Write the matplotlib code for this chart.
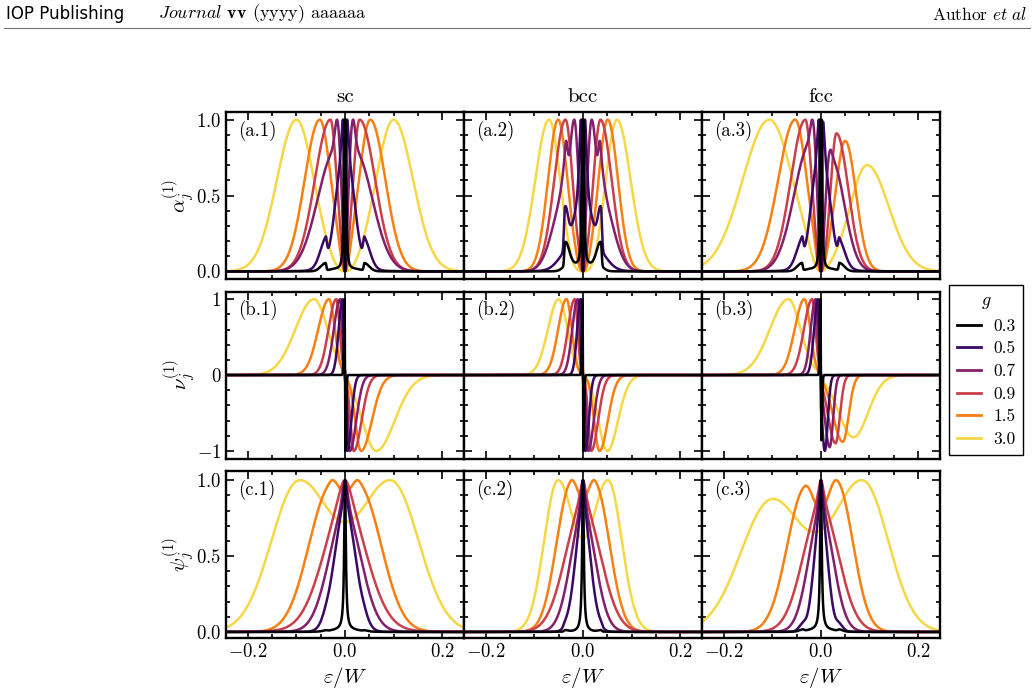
import numpy as np
import matplotlib
matplotlib.use('Agg')
import matplotlib.pyplot as plt
from matplotlib.lines import Line2D
from matplotlib.ticker import MultipleLocator

plt.rcParams.update({
    'font.family': 'serif',
    'font.serif': ['cmr10'],
    'mathtext.fontset': 'cm',
    'axes.formatter.use_mathtext': True,
    'font.size': 13,
})

# coupling values g and lattices
G_VALUES = [0.3, 0.5, 0.7, 0.9, 1.5, 3.0]
LATTICES = ['sc', 'bcc', 'fcc']

# curve components: (kind, centre, left width, right width, amplitude)
# sc / bcc panels are symmetric -> only the left half is listed and mirrored
ALPHA_SC = [
    [('l', -0.0015, 0.0015, 0.001, 1.0), ('g', -0.040, 0.010, 0.0015, 0.05), ('g', -0.02, 0.015, 0.01, 0.012)],
    [('l', -0.004, 0.006, 0.003, 0.7), ('g', -0.012, 0.010, 0.010, 0.45), ('g', -0.040, 0.012, 0.0025, 0.17), ('g', -0.02, 0.02, 0.01, 0.15)],
    [('g', -0.013, 0.006, 0.006, 0.3), ('g', -0.020, 0.036, 0.010, 0.8)],
    [('g', -0.030, 0.032, 0.013, 1.0)],
    [('g', -0.052, 0.031, 0.023, 1.0)],
    [('g', -0.100, 0.040, 0.036, 1.0)],
]
ALPHA_BCC = [
    [('l', -0.0015, 0.0015, 0.001, 1.0), ('g', -0.037, 0.0015, 0.008, 0.16), ('g', -0.03, 0.01, 0.02, 0.05)],
    [('l', -0.004, 0.005, 0.003, 0.8), ('g', -0.010, 0.012, 0.008, 0.3), ('g', -0.037, 0.002, 0.006, 0.33), ('g', -0.03, 0.02, 0.012, 0.14)],
    [('g', -0.018, 0.012, 0.009, 0.75), ('g', -0.036, 0.025, 0.004, 0.38)],
    [('g', -0.036, 0.023, 0.0145, 1.0)],
    [('g', -0.051, 0.021, 0.019, 1.0)],
    [('g', -0.070, 0.028, 0.023, 1.0)],
]
ALPHA_FCC = [
    [('l', -0.0015, 0.0015, 0.001, 1.0), ('l', 0.0015, 0.001, 0.0015, 1.0),
     ('g', -0.039, 0.010, 0.0015, 0.05), ('g', 0.038, 0.0015, 0.010, 0.05),
     ('g', -0.02, 0.015, 0.01, 0.012), ('g', 0.02, 0.01, 0.015, 0.012)],
    [('l', -0.004, 0.006, 0.003, 0.7), ('l', 0.004, 0.003, 0.006, 0.7),
     ('g', -0.012, 0.010, 0.010, 0.45), ('g', 0.012, 0.010, 0.010, 0.42),
     ('g', -0.039, 0.012, 0.0025, 0.16), ('g', 0.038, 0.0025, 0.012, 0.15),
     ('g', -0.02, 0.02, 0.01, 0.15), ('g', 0.02, 0.01, 0.02, 0.14)],
    [('g', -0.013, 0.006, 0.006, 0.3), ('g', -0.022, 0.033, 0.010, 0.8),
     ('g', 0.013, 0.006, 0.006, 0.15), ('g', 0.022, 0.010, 0.026, 0.7)],
    [('g', -0.032, 0.030, 0.013, 1.0), ('g', 0.032, 0.012, 0.024, 0.91)],
    [('g', -0.053, 0.035, 0.024, 1.0), ('g', 0.050, 0.020, 0.022, 0.86)],
    [('g', -0.106, 0.055, 0.048, 1.0), ('g', 0.095, 0.035, 0.045, 0.70)],
]
ALPHA_NOTCH = [0.001, 0.002, 0.004, 0.006, 0.01, 0.02]

NU_SC = [
    [('g', -0.0008, 0.0015, 0.0003, 1.0)],
    [('g', -0.005, 0.008, 0.002, 1.0)],
    [('g', -0.010, 0.013, 0.004, 1.0)],
    [('g', -0.018, 0.016, 0.007, 1.0)],
    [('g', -0.033, 0.022, 0.012, 1.0)],
    [('g', -0.064, 0.038, 0.028, 1.0)],
]
NU_BCC = [
    [('g', -0.0008, 0.0015, 0.0003, 1.0)],
    [('g', -0.005, 0.007, 0.002, 1.0)],
    [('g', -0.011, 0.011, 0.004, 1.0)],
    [('g', -0.017, 0.014, 0.006, 1.0)],
    [('g', -0.034, 0.017, 0.011, 1.0)],
    [('g', -0.050, 0.022, 0.018, 1.0)],
]
NU_FCC_LEFT = [
    [('g', -0.0008, 0.0015, 0.0003, 1.0)],
    [('g', -0.006, 0.008, 0.002, 1.0)],
    [('g', -0.011, 0.010, 0.004, 1.0)],
    [('g', -0.018, 0.017, 0.007, 1.0)],
    [('g', -0.034, 0.020, 0.012, 1.0)],
    [('g', -0.067, 0.038, 0.025, 1.0)],
]
NU_FCC_RIGHT = [
    [('g', 0.001, 0.0005, 0.0015, 0.86)],
    [('g', 0.008, 0.006, 0.006, 1.0)],
    [('g', 0.018, 0.010, 0.007, 0.95)],
    [('g', 0.030, 0.015, 0.009, 0.90)],
    [('g', 0.045, 0.020, 0.012, 0.88)],
    [('g', 0.067, 0.030, 0.030, 0.82)],
]

PSI_SC = [
    [('l', 0.0, 0.002, 0.002, 1.0), ('g', -0.04, 0.006, 0.003, 0.01), ('g', 0.0, 0.025, 0.025, 0.015)],
    [('g', 0.0, 0.022, 0.022, 0.8), ('l', 0.0, 0.004, 0.004, 0.2), ('g', -0.04, 0.008, 0.006, 0.04)],
    [('g', 0.0, 0.034, 0.034, 0.75), ('l', 0.0, 0.008, 0.008, 0.25)],
    [('g', 0.0, 0.046, 0.046, 0.75), ('l', 0.0, 0.02, 0.02, 0.25)],
    [('g', -0.031, 0.044, 0.026, 1.0)],
    [('g', -0.096, 0.056, 0.068, 1.0)],
]
PSI_BCC = [
    [('l', 0.0, 0.002, 0.002, 1.0), ('g', -0.037, 0.002, 0.006, 0.02)],
    [('g', 0.0, 0.016, 0.016, 0.75), ('l', 0.0, 0.004, 0.004, 0.25), ('g', -0.037, 0.003, 0.008, 0.04)],
    [('g', 0.0, 0.026, 0.026, 0.75), ('l', 0.0, 0.006, 0.006, 0.25)],
    [('g', 0.0, 0.037, 0.037, 0.8), ('l', 0.0, 0.008, 0.008, 0.2)],
    [('g', -0.026, 0.029, 0.021, 1.0)],
    [('g', -0.052, 0.028, 0.034, 1.0)],
]
PSI_FCC = [
    [('l', 0.0, 0.002, 0.002, 1.0), ('g', -0.038, 0.006, 0.003, 0.01), ('g', 0.038, 0.003, 0.006, 0.01), ('g', 0.0, 0.025, 0.025, 0.015)],
    [('g', 0.0, 0.014, 0.014, 0.75), ('l', 0.0, 0.004, 0.004, 0.25), ('g', -0.038, 0.008, 0.006, 0.04), ('g', 0.038, 0.006, 0.008, 0.04)],
    [('g', 0.0, 0.026, 0.026, 0.75), ('l', 0.0, 0.006, 0.006, 0.25)],
    [('g', 0.0, 0.037, 0.037, 0.8), ('l', 0.0, 0.008, 0.008, 0.2)],
    [('g', -0.034, 0.036, 0.026, 0.96), ('g', 0.034, 0.026, 0.032, 1.0)],
    [('g', -0.102, 0.063, 0.068, 0.88), ('g', 0.087, 0.064, 0.052, 1.0)],
]


def shape(x, comps):
    y = np.zeros_like(x)
    for kind, c, sl, sr, a in comps:
        d = x - c
        s = np.where(d < 0, sl, sr)
        if kind == 'g':
            y += a * np.exp(-0.5 * (d / s) ** 2)
        else:
            y += a / (1 + (d / s) ** 2)
    return y


def mirror(comps):
    return comps + [(k, -c, sr, sl, a) for k, c, sl, sr, a in comps]


x = np.linspace(-0.26, 0.26, 5201)


def alpha_curve(comps, d):
    y = shape(x, comps) * (1 - np.exp(-(x / d) ** 2))
    return y / y.max()


def nu_curve(left, right):
    yl = shape(x, left)
    yr = shape(x, right)
    y = np.where(x < 0, yl, -yr)
    return y / yl[x < 0].max()


def psi_curve(comps):
    y = shape(x, comps)
    return y / y.max()


colors = plt.cm.inferno(np.linspace(0, 0.9, len(G_VALUES)))

fig = plt.figure(figsize=(10.34, 6.96), dpi=100)
gs = fig.add_gridspec(3, 3, left=0.2186, right=0.909, top=0.839, bottom=0.0833,
                      hspace=0.075, wspace=0)

alpha_data = {'sc': [mirror(c) for c in ALPHA_SC], 'bcc': [mirror(c) for c in ALPHA_BCC], 'fcc': ALPHA_FCC}
nu_data = {'sc': [(c, mirror(c)[len(c):]) for c in NU_SC],
           'bcc': [(c, mirror(c)[len(c):]) for c in NU_BCC],
           'fcc': list(zip(NU_FCC_LEFT, NU_FCC_RIGHT))}
psi_data = {'sc': [mirror(c) for c in PSI_SC], 'bcc': [mirror(c) for c in PSI_BCC], 'fcc': PSI_FCC}

row_names = ['a', 'b', 'c']
ylabels = [r'$\alpha_j^{(1)}$', r'$\nu_j^{(1)}$', r'$\psi_j^{(1)}$']

lines = []
for j, lat in enumerate(LATTICES):
    for i in range(3):
        ax = fig.add_subplot(gs[i, j])
        # plot large g first so that black ends on top
        for k in reversed(range(len(G_VALUES))):
            if i == 0:
                y = alpha_curve(alpha_data[lat][k], ALPHA_NOTCH[k])
            elif i == 1:
                y = nu_curve(*nu_data[lat][k])
            else:
                y = psi_curve(psi_data[lat][k])
            ln, = ax.plot(x, y, color=colors[k], lw=1.8)
            if i == 0 and j == 0:
                lines.append(ln)
        ax.set_xlim(-0.245, 0.245)
        ax.xaxis.set_major_locator(MultipleLocator(0.2))
        ax.xaxis.set_minor_locator(MultipleLocator(0.05))
        if i == 1:
            ax.set_ylim(-1.1, 1.1)
            ax.yaxis.set_major_locator(MultipleLocator(1))
            ax.yaxis.set_minor_locator(MultipleLocator(0.2))
        else:
            ax.set_ylim(-0.05, 1.05) if i == 0 else ax.set_ylim(-0.04, 1.06)
            ax.yaxis.set_major_locator(MultipleLocator(0.5))
            ax.yaxis.set_minor_locator(MultipleLocator(0.1))
        ax.tick_params(which='both', direction='in', top=True, right=True, width=1.2)
        ax.tick_params(which='major', length=6, labelsize=13.5)
        ax.tick_params(which='minor', length=3)
        for sp in ax.spines.values():
            sp.set_linewidth(1.7)
        if j == 0:
            ax.set_ylabel(ylabels[i], fontsize=15, labelpad=-1)
        else:
            ax.tick_params(labelleft=False)
        if i == 2:
            ax.set_xlabel(r'$\varepsilon/W$', fontsize=15, labelpad=3)
        else:
            ax.tick_params(labelbottom=False)
        if i == 0:
            ax.set_title(lat, fontsize=15, pad=7)
        ax.text(0.05, 0.95, '(%s.%d)' % (row_names[i], j + 1), transform=ax.transAxes,
                ha='left', va='top', fontsize=13.5)

handles = lines[::-1]
leg = fig.legend(handles, [str(g) for g in G_VALUES], title='$g$', loc='upper left',
                 bbox_to_anchor=(949 / 1034, 1 - 285 / 696), fancybox=False,
                 edgecolor='black', framealpha=1, borderaxespad=0, fontsize=12.5,
                 title_fontsize=13, handlelength=1.4, labelspacing=0.42,
                 handletextpad=0.7, borderpad=0.45)
leg.get_frame().set_linewidth(1.0)
for h in leg.legend_handles:
    h.set_linewidth(2.0)

# page header
fig.text(6 / 1034, 1 - 14 / 696, 'IOP Publishing', ha='left', va='center', fontsize=12,
         family='DejaVu Sans')
fig.text(158 / 1034, 1 - 14 / 696, r'$\mathit{Journal}$ $\mathbf{vv}$ (yyyy) aaaaaa',
         ha='left', va='center', fontsize=13)
fig.text(1027 / 1034, 1 - 14 / 696, r'Author $\mathit{et\ al}$', ha='right', va='center', fontsize=12.5)
fig.add_artist(Line2D([4 / 1034, 1030 / 1034], [1 - 28 / 696] * 2, color='0.45', lw=0.8))

fig.savefig('out.png', dpi=100)
